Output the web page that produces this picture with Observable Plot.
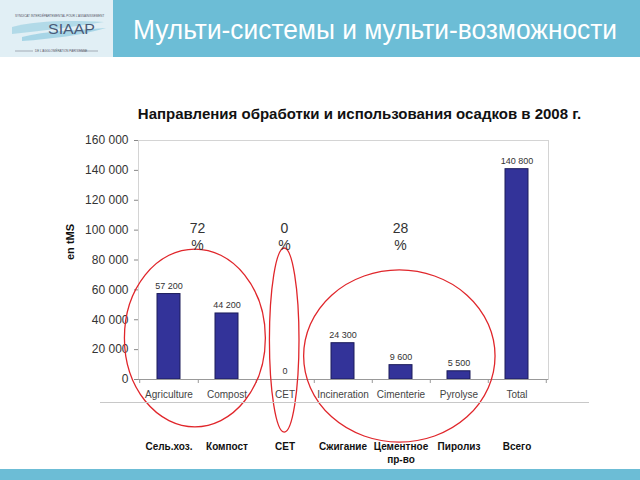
<!DOCTYPE html>
<html><head><meta charset="utf-8">
<script src="https://cdn.jsdelivr.net/npm/d3@7"></script>
<script src="https://cdn.jsdelivr.net/npm/@observablehq/plot@0.6"></script>
<style>
body{margin:0;background:#fff;font-family:"Liberation Sans",Arial,sans-serif}
#page{position:relative;width:640px;height:480px;overflow:hidden;background:#fff}
#plot{position:absolute;left:0;top:0}
#hdrL{position:absolute;left:0;top:0;width:113px;height:57px;background:#e1eff5}
#hdrR{position:absolute;left:113px;top:0;width:527px;height:57px;background:#6cbdd6}
#hdrT{position:absolute;left:133px;top:17px;font-size:27px;color:#fff;white-space:nowrap;transform-origin:0 0;line-height:1}
#title{position:absolute;left:0;width:719px;top:105px;text-align:center;font-weight:bold;font-size:15px;color:#111;white-space:nowrap}
#sep{position:absolute;left:100px;top:402px;width:489px;height:1px;background:#c8c8c8}
#foot{position:absolute;left:0;top:469px;width:640px;height:11px;background:#6cbdd6}
</style></head><body><div id="page">
<div id="plot"></div>
<div id="hdrL"><svg width="113" height="57">
<path d="M12,27 C35,21 65,20 104,22 C72,27 42,31 12,34 Z" fill="#a9d6e5" opacity="0.85"/>
<path d="M22,37 C45,31 78,30 106,28 C82,35 52,39 22,41 Z" fill="#8fcadf" opacity="0.7"/>
<text x="15" y="17" font-size="3" fill="#556">SYNDICAT INTERDÉPARTEMENTAL POUR L'ASSAINISSEMENT</text>
<text x="48" y="34" font-size="14" fill="#4a5a78" font-family="Liberation Sans" textLength="47" lengthAdjust="spacingAndGlyphs">SIAAP</text>
<line x1="15" y1="51" x2="33" y2="51" stroke="#667" stroke-width="0.5"/>
<line x1="80" y1="51" x2="98" y2="51" stroke="#667" stroke-width="0.5"/>
<text x="35" y="52" font-size="3" fill="#556">DE L'AGGLOMÉRATION PARISIENNE</text>
</svg></div>
<div id="hdrR"></div>
<div id="hdrT">Мульти-системы и мульти-возможности</div>
<div id="title">Направления обработки и использования осадков в 2008 г.</div>
<div id="sep"></div>
<div id="foot"></div>
</div>
<script>
const categories = ["Agriculture","Compost","CET","Incineration","Cimenterie","Pyrolyse","Total"];
const values = [57200, 44200, 0, 24300, 9600, 5500, 140800];
const ruLabels = ["Сель.хоз.","Компост","CET","Сжигание","Цементное\nпр-во","Пиролиз","Всего"];
const yTicks = [0, 20000, 40000, 60000, 80000, 100000, 120000, 140000, 160000];
const yLabel = "en tMS";
// annotation groups: members, share label, ellipse extent (category index units, value units)
const groupMembers = [["Agriculture","Compost"], ["CET"], ["Incineration","Cimenterie","Pyrolyse"]];
const groupShares = ["72", "0", "28"];
const ellipseFrom = [-0.76, 1.74, 2.33];
const ellipseTo = [1.67, 2.25, 5.63];
const ellipseTop = [87000, 87700, 73000];
const ellipseBottom = [-32000, -35500, -42200];

const data = categories.map((c, i) => ({cat: c, value: values[i], ru: ruLabels[i]}));
const fmt = d => d3.format(",")(d).replace(/,/g, " ");

function annotations(index, scales, vals, dims) {
  const x = scales.x, y = scales.y;
  const step = x.step ? x.step() : (dims.width - dims.marginLeft - dims.marginRight) / categories.length;
  const bw = x.bandwidth ? x.bandwidth() : step * 0.4;
  const c0 = x(categories[0]) + bw / 2;
  const g = d3.create("svg:g");
  groupMembers.forEach((m, i) => {
    const x1 = c0 + ellipseFrom[i] * step, x2 = c0 + ellipseTo[i] * step;
    const y1 = y(ellipseTop[i]), y2 = y(ellipseBottom[i]);
    g.append("ellipse")
      .attr("cx", (x1 + x2) / 2).attr("cy", (y1 + y2) / 2)
      .attr("rx", (x2 - x1) / 2).attr("ry", (y2 - y1) / 2)
      .attr("fill", "none").attr("stroke", "#e0262b").attr("stroke-width", 1.3);
    const cx = d3.mean(m, c => x(c) + bw / 2);
    const t = g.append("text").attr("text-anchor", "middle").attr("font-size", 14).attr("fill", "#333");
    t.append("tspan").attr("x", cx).attr("y", dims.marginTop + 93).text(groupShares[i]);
    t.append("tspan").attr("x", cx).attr("y", dims.marginTop + 110).text("%");
  });
  return g.node();
}

const step = (640 - 138 - 92) / categories.length;

const chart = Plot.plot({
  width: 640,
  height: 480,
  marginLeft: 138,
  marginRight: 92,
  marginTop: 140,
  marginBottom: 101,
  style: {fontFamily: "Liberation Sans, Arial, sans-serif", fontSize: "10px", color: "#333", background: "transparent", overflow: "visible"},
  x: {domain: categories, paddingInner: 0.6, paddingOuter: 0.3, label: null},
  y: {domain: [0, 160000], label: null},
  marks: [
    Plot.frame({stroke: "#d4d4d4"}),
    Plot.barY(data, {x: "cat", y: "value", fill: "#333399", stroke: "#1c1c5a", strokeWidth: 1}),
    Plot.axisY({ticks: yTicks, tickFormat: fmt, tickSize: 4, tickPadding: 6, fontSize: 12, stroke: "#888", fill: "#333", label: null}),
    Plot.ruleX([0], {frameAnchor: "left", stroke: "#999"}),
    Plot.ruleY([0], {stroke: "#999"}),
    Plot.axisX({tickSize: 0, tickPadding: 11, fontSize: 10, fill: "#444", label: null}),
    Plot.axisX({tickSize: 4, tickFormat: () => "", stroke: "#999", dx: step / 2, label: null}),
    Plot.axisX({ticks: [categories[0]], tickSize: 4, tickFormat: () => "", stroke: "#999", dx: -step / 2, label: null}),
    Plot.text(data, {x: "cat", y: "value", text: d => fmt(d.value), dy: -8, fontSize: 9, fill: "#333"}),
    Plot.text([yLabel], {frameAnchor: "left", text: d => d, rotate: -90, dx: -68, fontSize: 11, fontWeight: "bold", fill: "#111"}),
    Plot.text(data, {x: "cat", text: "ru", frameAnchor: "bottom", lineAnchor: "top", dy: 62, fontSize: 10, fontWeight: "bold", fill: "#111", lineHeight: 1.25, letterSpacing: "0.3px"}),
    annotations
  ]
});
document.getElementById("plot").appendChild(chart);

const ht = document.getElementById("hdrT");
const w = ht.getBoundingClientRect().width;
ht.style.transform = `scaleX(${484 / w})`;
</script>
</body></html>
